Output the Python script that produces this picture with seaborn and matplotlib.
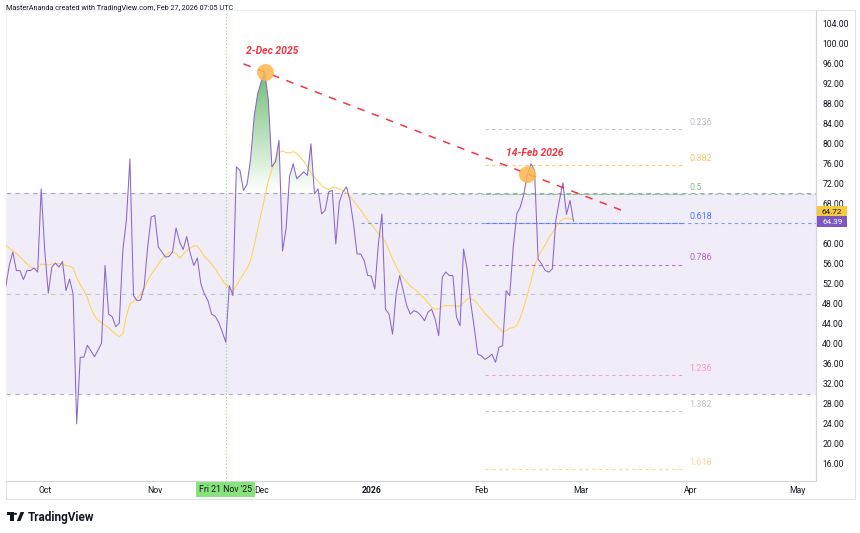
import numpy as np
import pandas as pd
import matplotlib
matplotlib.use("Agg")
import matplotlib.pyplot as plt
import matplotlib.dates as mdates
import matplotlib.transforms as mtransforms
from matplotlib.colors import LinearSegmentedColormap
from matplotlib.path import Path
from matplotlib.patches import Rectangle, Circle, Polygon
from matplotlib.ticker import FormatStrFormatter
import seaborn as sns

# daily RSI readings and their moving average, first bar 20 Sep 2025
start_date = "2025-09-20"
rsi_values = [
    51.3, 55.6, 58.3, 54.6, 54.6, 52.8, 54.6, 54.6, 55.1, 54.3,
    70.9, 58.6, 50.1, 55.3, 56.1, 55.3, 56.4, 50.6, 52.9, 49.9,
    24.0, 37.3, 37.3, 39.7, 38.6, 37.4, 38.7, 40.1, 55.6, 45.9,
    45.4, 43.4, 44.1, 58.6, 64.6, 76.9, 49.6, 48.6, 48.7, 51.3,
    59.3, 65.3, 65.6, 59.3, 58.3, 57.3, 57.4, 58.3, 63.1, 60.3,
    58.8, 61.4, 58.0, 55.6, 57.1, 51.9, 49.9, 48.6, 45.9, 45.5,
    44.3, 42.4, 40.3, 51.6, 49.6, 75.3, 74.6, 70.6, 71.8, 76.8,
    85.3, 89.9, 92.3, 94.2, 88.6, 75.3, 76.3, 80.6, 58.5, 63.0,
    73.5, 75.9, 72.9, 73.6, 74.3, 73.6, 79.9, 69.9, 70.9, 65.9,
    66.6, 70.3, 70.6, 59.9, 68.3, 70.3, 71.3, 68.6, 63.9, 57.9,
    57.9, 56.6, 53.6, 53.5, 50.9, 59.9, 65.9, 46.9, 45.9, 41.9,
    49.9, 53.6, 50.6, 47.6, 45.9, 46.6, 46.3, 45.6, 44.6, 46.3,
    46.9, 44.9, 41.6, 53.3, 54.3, 53.6, 53.6, 45.3, 43.6, 58.9,
    54.9, 48.3, 43.3, 37.9, 37.6, 36.9, 37.3, 37.9, 36.3, 39.3,
    39.6, 50.6, 49.6, 59.3, 65.9, 67.3, 69.9, 73.9, 75.9, 74.6,
    56.9, 55.9, 54.6, 54.3, 54.9, 64.6, 68.6, 72.1, 65.8, 68.6,
    64.39,
]
rsi_ma_values = [
    59.7, 59.1, 58.6, 58.0, 57.3, 56.6, 55.9, 55.3, 55.0, 55.1,
    55.9, 55.8, 55.7, 55.9, 56.0, 56.0, 55.9, 55.6, 55.5, 55.1,
    53.2, 51.8, 50.6, 49.2, 47.1, 45.6, 44.7, 44.2, 43.7, 43.2,
    42.5, 41.9, 41.4, 42.0, 45.6, 47.9, 48.4, 49.0, 49.9, 51.0,
    52.6, 53.9, 54.8, 55.8, 56.9, 57.6, 58.2, 58.3, 58.0, 57.1,
    57.8, 58.6, 59.1, 59.5, 59.5, 58.5, 57.4, 56.7, 55.9, 55.0,
    53.9, 52.7, 51.8, 51.1, 50.4, 51.6, 52.8, 53.9, 55.0, 56.5,
    59.6, 62.8, 66.1, 69.3, 72.5, 74.9, 76.9, 78.1, 78.5, 78.1,
    78.1, 78.3, 78.0, 77.2, 76.4, 75.3, 74.1, 73.2, 72.4, 71.6,
    71.1, 70.7, 71.2, 71.1, 70.9, 70.5, 70.1, 69.4, 68.5, 67.6,
    66.7, 65.7, 64.7, 63.8, 62.9, 61.9, 61.3, 60.3, 58.6, 56.9,
    55.5, 54.1, 53.2, 52.3, 51.5, 51.0, 50.4, 49.7, 49.0, 48.2,
    47.3, 46.9, 46.9, 47.5, 47.6, 47.6, 47.6, 47.5, 47.5, 48.2,
    48.9, 49.0, 48.7, 47.9, 47.0, 46.1, 45.3, 44.6, 43.8, 43.1,
    42.4, 42.6, 43.1, 43.2, 43.6, 45.2, 47.3, 49.8, 52.5, 55.6,
    57.2, 58.6, 59.7, 61.1, 62.1, 63.2, 64.2, 64.9, 65.0, 65.0,
    64.72,
]

# fibonacci retracement drawn on the RSI
fib_ratios = [0.236, 0.382, 0.5, 0.618, 0.786, 1.236, 1.382, 1.618]
fib_colors = ["#b2b5be", "#ffb74d", "#66bb6a", "#2962ff",
              "#ab47bc", "#f48fb1", "#b2b5be", "#ffcc80"]
fib_high = 94.4
fib_low = 45.3
fib_start = "2026-02-02"
fib_end = "2026-03-30"
ray_start = "2025-12-29"

# highlighted peaks and the falling trend line through them
peak_dates = ["2025-12-02", "2026-02-14"]
peak_labels = ["2-Dec 2025", "14-Feb 2026"]
trend_start = "2025-11-26"
trend_end = "2026-03-13"

crosshair_date = "2025-11-21"
crosshair_label = "Fri 21 Nov '25"

month_ticks = ["2025-10-01", "2025-11-01", "2025-12-01", "2026-01-01",
               "2026-02-01", "2026-03-01", "2026-04-01", "2026-05-01"]
month_labels = ["Oct", "Nov", "Dec", "2026", "Feb", "Mar", "Apr", "May"]
# 64 is hidden behind the last-value labels
y_ticks = [v for v in range(16, 105, 4) if v != 64]

dates = pd.date_range(start_date, periods=len(rsi_values), freq="D")
df = pd.DataFrame({"date": dates, "rsi": rsi_values, "ma": rsi_ma_values})

sns.set_theme(style="white")
plt.rcParams["font.family"] = ["Roboto", "DejaVu Sans"]

W, H = 860, 533
def fx(x):
    return x / W
def fy(y):
    return 1 - y / H

fig = plt.figure(figsize=(W / 100, H / 100), dpi=100)
fig.patch.set_facecolor("white")
ax = fig.add_axes([fx(5.7), fy(481), fx(816) - fx(5.7), fy(10) - fy(481)])
ax.set_facecolor("white")

text_col = "#131722"
border = "#e0e3eb"

# RSI band
ax.axhspan(30, 70, color="#7e57c2", alpha=0.1, lw=0, zorder=0)
for lvl, a in [(70, 0.6), (50, 0.35), (30, 0.6)]:
    ax.axhline(lvl, color="#787b86", lw=0.8, ls=(0, (4, 4)), alpha=a, zorder=1)

# crosshair
cross = pd.Timestamp(crosshair_date)
ax.axvline(cross, color="#8fdc8f", lw=0.8, ls=(0, (1, 2)), zorder=1)

# overbought gradient fill
xs = mdates.date2num(df["date"])
rsi = np.array(rsi_values)
poly = ax.fill_between(df["date"], rsi, 70, where=rsi > 70, interpolate=True,
                       color="none", lw=0)
clip = Path.make_compound_path(*poly.get_paths())
cmap = LinearSegmentedColormap.from_list(
    "ob", [(0.298, 0.686, 0.314, 0.0), (0.298, 0.686, 0.314, 1.0)])
grad = np.linspace(0, 1, 256).reshape(-1, 1)
im = ax.imshow(grad, cmap=cmap, aspect="auto", origin="lower",
               extent=[xs[0], xs[-1], 70, 100], zorder=2)
im.set_clip_path(clip, transform=ax.transData)

# lines
sns.lineplot(data=df, x="date", y="ma", ax=ax, color="#fcd65a", lw=0.8, zorder=3)
sns.lineplot(data=df, x="date", y="rsi", ax=ax, color="#8a66cc", lw=0.75, zorder=4)

# fib levels
fs, fe = pd.Timestamp(fib_start), pd.Timestamp(fib_end)
for r, c in zip(fib_ratios, fib_colors):
    lvl = fib_high - r * (fib_high - fib_low)
    ax.plot([fs, fe], [lvl, lvl], color=c, lw=0.8, ls=(0, (3, 3)), alpha=0.75, zorder=3)
    ax.annotate(f"{r:g}", xy=(fe, lvl), xytext=(4, 1.5), textcoords="offset points",
                ha="left", va="bottom", fontsize=6.5, color=c, alpha=0.85)
for r in [0.5, 0.618]:
    i = fib_ratios.index(r)
    lvl = fib_high - r * (fib_high - fib_low)
    ax.plot([pd.Timestamp(ray_start), dates[0] + pd.Timedelta(days=240)], [lvl, lvl],
            color=fib_colors[i], lw=0.8, ls=(0, (3, 3)), alpha=0.6, zorder=3)

# trend line through peaks and the peak markers
pk = [pd.Timestamp(d) for d in peak_dates]
pv = [df.loc[df["date"] == d, "rsi"].iloc[0] for d in pk]
slope = (pv[1] - pv[0]) / (pk[1] - pk[0]).days
t0, t1 = pd.Timestamp(trend_start), pd.Timestamp(trend_end)
ax.plot([t0, t1], [pv[0] + slope * (t0 - pk[0]).days, pv[0] + slope * (t1 - pk[0]).days],
        color="#f23645", lw=1.1, ls=(0, (5, 5)), zorder=5)
ax.scatter(pk, pv, s=150, color="#ffb74d", alpha=0.85, lw=0, zorder=6)
for d, v, lab in zip(pk, pv, peak_labels):
    ax.annotate(lab, xy=(d, v), xytext=(5, 15), textcoords="offset points",
                ha="center", va="center", fontsize=7.5, color="#f23645",
                fontweight="bold", fontstyle="italic", zorder=7)

# axes
x0 = mdates.date2num(dates[0])
ax.set_xlim(x0, x0 + 228.3)
ax.set_ylim(12.6, 106.6)
ax.set_xlabel("")
ax.set_ylabel("")
ax.grid(False)
ax.set_xticks(pd.to_datetime(month_ticks))
ax.set_xticklabels(month_labels)
for t in ax.get_xticklabels():
    if t.get_text() == "2026":
        t.set_fontweight("bold")
ax.tick_params(axis="x", length=0, pad=3.5, labelsize=6.2, labelcolor=text_col)
ax.yaxis.tick_right()
ax.set_yticks(y_ticks)
ax.yaxis.set_major_formatter(FormatStrFormatter("%.2f"))
ax.tick_params(axis="y", length=0, pad=4.5, labelsize=6.2, labelcolor=text_col,
               labelright=True, labelleft=False)
for s in ["left", "top"]:
    ax.spines[s].set_color("#eef0f4")
    ax.spines[s].set_linewidth(0.8)
for s in ["right", "bottom"]:
    ax.spines[s].set_color("#d1d4dc")
    ax.spines[s].set_linewidth(0.8)

# last value labels on the price scale
bt = mtransforms.blended_transform_factory(ax.transAxes, ax.transData)
last_rsi, last_ma = rsi_values[-1], rsi_ma_values[-1]
for val, yc, fc, tc in [(last_rsi, last_rsi, "#7e57c2", "white"),
                        (last_ma, last_rsi + 2.0, "#f7c93e", text_col)]:
    ax.add_patch(Rectangle((1.0015, yc - 1.0), 0.037, 2.0, transform=bt,
                           fc=fc, ec="none", clip_on=False, zorder=10))
    ax.text(1.0015 + 0.0185, yc - 0.1, f"{val:.2f}", transform=bt, ha="center",
            va="center", fontsize=5.9, color=tc, clip_on=False, zorder=11)

# crosshair time label
ax.annotate(crosshair_label, xy=(cross, 0), xycoords=("data", "axes fraction"),
            xytext=(0, -6), textcoords="offset points", ha="center", va="center",
            fontsize=6.3, color=text_col, annotation_clip=False, zorder=12,
            bbox=dict(boxstyle="square,pad=0.35", fc="#87e27c", ec="none"))

# outer frame of scales
fig.add_artist(plt.Line2D([fx(855), fx(855)], [fy(10), fy(499)], color=border, lw=0.8))
fig.add_artist(plt.Line2D([fx(5.7), fx(855)], [fy(499), fy(499)], color=border, lw=0.8))
fig.add_artist(plt.Line2D([fx(5.7), fx(5.7)], [fy(481), fy(499)], color=border, lw=0.8))
fig.add_artist(plt.Line2D([fx(816), fx(855)], [fy(10), fy(10)], color=border, lw=0.8))

# header and logo
fig.text(fx(6), fy(8), "MasterAnanda created with TradingView.com, Feb 27, 2026 07:05 UTC",
         fontsize=5.2, color=text_col, ha="left", va="center")
fig.text(fx(28), fy(517), "TradingView", fontsize=8.5, fontweight="bold",
         color=text_col, ha="left", va="center")
logo_a = [(6.7, 512), (13.6, 512), (13.6, 521), (10.3, 521), (10.3, 515.2), (6.7, 515.2)]
logo_b = [(16.8, 521), (20.6, 512), (24.2, 512), (20.4, 521)]
for pts in [logo_a, logo_b]:
    fig.add_artist(Polygon([(fx(a), fy(b)) for a, b in pts], closed=True,
                           transform=fig.transFigure, fc=text_col, ec="none"))
fig.add_artist(Circle((fx(15.4), fy(513.8)), 1.7 / W, transform=fig.transFigure,
                      fc=text_col, ec="none"))

fig.savefig("out.png", dpi=100)
